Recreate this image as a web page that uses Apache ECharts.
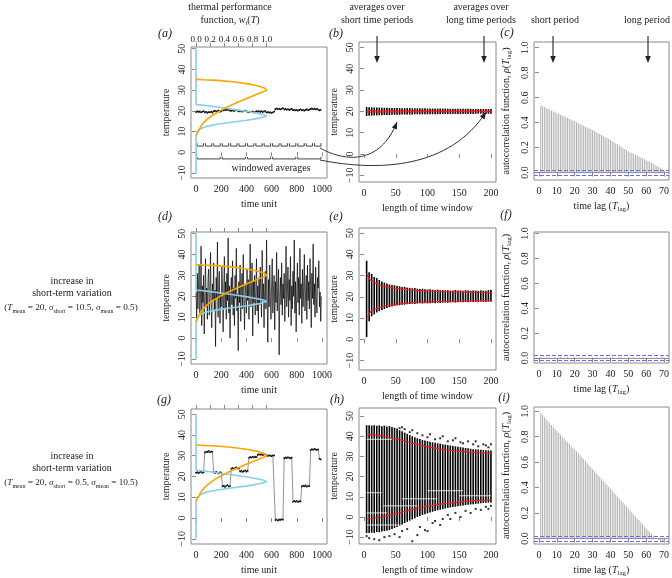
<!DOCTYPE html>
<html>
<head>
<meta charset="utf-8">
<script src="https://cdn.jsdelivr.net/npm/echarts@6/dist/echarts.min.js"></script>
<style>html,body{margin:0;padding:0;background:#fff}#chart{width:672px;height:578px}</style>
</head>
<body>
<div id="chart"></div>
<script>
// ---- data ----
// thermal performance curves: [w, temperature]
var blueCurve = [[0,-10],[0,8],[0.02,10],[0.07,11.5],[0.15,12.5],[0.3,13.5],[0.5,14.5],[0.72,15.5],[0.9,16.5],[1,17.5],
  [0.95,18.3],[0.75,19.6],[0.55,20.6],[0.35,21.6],[0.15,22.5],[0.04,22.9],[0,23],[0,50]];
var orangeCurve = [[0,8],[0.01,9],[0.03,10],[0.06,12],[0.1,14],[0.16,16],[0.24,18],[0.34,20],[0.45,22],[0.58,24],
  [0.72,26],[0.86,28],[0.96,29.3],[1,30],[0.97,31],[0.88,32],[0.74,33],[0.52,34],[0.3,34.7],[0.1,35],[0,35.2]];

// panel a: temperature every 10 time units
var tempA = [19.4,19.8,19.5,19.7,19.3,19.6,19.9, 19.2,19.5,19.0,19.4,19.3,19.6,19.1, 19.8,20.1,19.7,19.9,20.2,19.6,19.8,
  20.5,20.2,20.6,20.3,20.7,20.4,20.1, 20.0,20.3,19.9,20.2,20.4,20.1,19.8, 19.7,20.0,19.6,19.9,20.1,19.8,19.5,
  19.3,19.6,19.4,19.7,19.2,19.5,19.8, 19.6,19.9,19.5,19.8,19.4,19.7,20.0, 19.2,19.5,19.1,19.4,19.0,19.3,19.6,
  20.9,21.2,20.8,21.1,20.7,21.0,21.3, 20.6,20.9,20.5,20.8,20.4,20.7,21.0, 20.3,20.6,20.2,20.5,20.1,20.4,20.7,
  20.2,20.5,20.1,20.4,20.8,20.3,20.6, 20.9,21.2,20.8,21.1,20.7,21.0,20.6, 20.2,20.5];
// panel d: temperature every 5 time units
var tempD = [22,8,31,14,27,35,12,19,44,6,25,17,30,2,21,38,15,24,9,28,
  33,11,20,41,16,5,26,18,36,13,23,-4,29,19,46,10,24,32,7,21,
  15,34,26,3,22,39,14,27,9,31,18,48,12,25,0,20,29,16,37,11,
  24,6,30,19,43,13,21,-6,27,17,35,8,23,31,14,40,19,4,26,22,
  12,33,18,28,9,24,45,15,20,36,1,27,17,30,11,22,38,13,25,7,
  29,16,34,21,10,42,18,26,5,23,32,14,47,19,-2,28,15,35,20,9,
  25,38,12,22,30,4,27,17,41,13,24,33,-8,20,29,16,36,11,26,19,
  31,8,23,44,15,21,34,10,28,18,39,6,25,14,32,20,47,12,27,3,
  22,36,17,29,11,43,19,26,7,33,15,24,40,13,21,30,9,35,18,27,
  14,38,23,5,31,19,45,16,26,10,34,20,12,29,24,37,15,22,8,20];
// panel g: temperature every 10 time units
var tempG = [21.8,22.1,21.6,22.0,22.3,21.7,22.0, 31.6,32.0,31.8,32.3,31.7,32.1,31.9, 22.0,21.6,22.2,21.8,21.5,22.1,21.9,
  15.2,15.6,15.0,15.5,15.8,15.1,15.4, 23.8,24.2,23.6,24.1,24.4,23.9,24.0, 22.4,22.8,22.2,22.6,22.9,22.3,22.7,
  29.0,29.4,29.1,29.6,29.2,29.5,29.3, 30.4,30.8,30.5,30.7,30.3,30.9,30.6, 30.2,29.9,30.3,30.0,29.8,30.2,30.1,
  -1.0,-0.6,-1.2,-0.7,-0.9,-0.5,-0.8, 28.8,29.2,28.9,29.3,29.0,28.7,29.1, 7.8,8.2,7.9,8.3,7.7,8.1,8.0,
  15.2,15.6,15.3,15.7,15.1,15.5,15.4, 32.8,33.2,32.9,33.3,33.0,32.7,33.1, 28.5,28.2];

// windowed-average boundaries drawn under panel a
var shortWindows = [0,67,133,200,267,333,400,467,533,600,667,733,800,867,933,1000];
var longWindows = [0,200,400,600,800,1000];

// panels b, e, h: window lengths, spread of window averages and red quantile lines
var windowLen = [4,8,12,16,20,24,28,32,36,40,44,48,52,56,60,64,68,72,76,80,84,88,92,96,100,
  104,108,112,116,120,124,128,132,136,140,144,148,152,156,160,164,168,172,176,180,184,188,192,196,200];
var bLo = [17.8,17.9,18.0,18.1,18.1,18.2,18.2,18.3,18.3,18.3,18.4,18.4,18.4,18.4,18.5,18.5,18.5,18.5,18.5,18.6,
  18.6,18.6,18.6,18.6,18.6,18.7,18.7,18.7,18.7,18.7,18.7,18.7,18.7,18.8,18.8,18.8,18.8,18.8,18.8,18.8,
  18.8,18.8,18.8,18.9,18.9,18.9,18.9,18.9,18.9,18.9];
var bHi = [22.0,21.9,21.9,21.8,21.8,21.8,21.7,21.7,21.7,21.6,21.6,21.6,21.6,21.5,21.5,21.5,21.5,21.5,21.4,21.4,
  21.4,21.4,21.4,21.4,21.3,21.3,21.3,21.3,21.3,21.3,21.3,21.3,21.2,21.2,21.2,21.2,21.2,21.2,21.2,21.2,
  21.2,21.2,21.1,21.1,21.1,21.1,21.1,21.1,21.1,21.1];
var bRedHi = [20.4,20.4,20.35,20.35,20.3,20.3,20.3,20.3,20.3,20.3,20.25,20.25,20.25,20.25,20.25,20.25,20.25,20.25,20.25,20.25,
  20.2,20.2,20.2,20.2,20.2,20.2,20.2,20.2,20.2,20.2,20.2,20.2,20.2,20.2,20.2,20.2,20.2,20.2,20.2,20.2,
  20.2,20.2,20.2,20.2,20.2,20.2,20.2,20.2,20.2,20.2];
var bRedLo = [19.6,19.6,19.65,19.65,19.7,19.7,19.7,19.7,19.7,19.7,19.75,19.75,19.75,19.75,19.75,19.75,19.75,19.75,19.75,19.75,
  19.8,19.8,19.8,19.8,19.8,19.8,19.8,19.8,19.8,19.8,19.8,19.8,19.8,19.8,19.8,19.8,19.8,19.8,19.8,19.8,
  19.8,19.8,19.8,19.8,19.8,19.8,19.8,19.8,19.8,19.8];
var eLo = [1.0,8.5,10.8,11.7,12.6,13.2,13.8,14.2,14.7,15.1,15.4,15.7,15.9,16.0,16.2,16.3,16.5,16.6,16.7,16.6,
  16.8,16.9,16.8,17.0,16.9,17.0,17.1,17.0,17.2,17.1,17.2,17.3,17.2,17.3,17.4,17.3,17.4,17.5,17.4,17.5,
  17.4,17.6,17.5,17.6,17.5,17.7,17.6,17.5,17.7,17.6];
var eHi = [37.0,31.6,30.8,29.3,28.8,27.9,27.2,26.7,26.2,25.8,25.6,25.4,25.1,24.9,24.6,24.7,24.3,24.2,24.0,24.1,
  23.8,23.7,23.8,23.5,23.4,23.5,23.3,23.2,23.4,23.1,23.2,23.0,23.1,22.9,23.0,23.2,22.9,23.0,22.8,23.1,
  22.9,22.8,23.0,22.9,22.8,23.0,22.9,22.8,23.1,23.3];
var eRedHi = [30.8,28.5,27.4,26.8,26.1,25.6,25.2,24.8,24.6,24.4,24.2,24.0,23.9,23.8,23.6,23.5,23.4,23.3,23.2,23.1,
  23.0,22.9,22.9,22.8,22.7,22.7,22.6,22.6,22.5,22.5,22.5,22.4,22.4,22.4,22.3,22.3,22.3,22.3,22.2,22.2,
  22.2,22.2,22.2,22.1,22.1,22.1,22.1,22.1,22.0,22.0];
var eRedLo = [9.7,12.0,13.6,14.0,14.4,14.9,15.3,15.5,15.8,16.0,16.2,16.4,16.5,16.7,16.8,16.9,17.0,17.1,17.2,17.3,
  17.4,17.4,17.5,17.5,17.6,17.6,17.7,17.7,17.8,17.8,17.8,17.9,17.9,17.9,18.0,18.0,18.0,18.0,18.1,18.1,
  18.1,18.1,18.1,18.2,18.2,18.2,18.2,18.2,18.3,18.3];
var hLo = [-8.0,-8.0,-7.8,-7.9,-7.5,-7.6,-7.2,-7.0,-6.8,-6.5,-6.0,-5.5,-5.0,-4.3,-3.7,-3.0,-2.4,-1.8,-1.2,-0.6,
  0.0,0.5,1.0,1.4,1.8,2.2,2.6,3.0,3.3,3.6,3.9,4.2,4.5,4.7,4.9,5.1,5.3,5.5,5.7,5.9,
  6.0,6.2,6.3,6.5,6.6,6.8,6.9,7.0,7.1,7.2];
var hHi = [45.5,45.5,45.3,45.5,45.2,45.4,45.0,45.3,44.8,45.0,44.6,44.2,43.8,43.0,42.5,41.8,41.2,40.6,40.0,39.5,
  39.0,38.6,38.2,37.9,37.6,37.3,37.0,36.8,36.5,36.3,36.0,35.8,35.6,35.4,35.2,35.0,34.8,34.6,34.4,34.2,
  34.0,33.8,33.6,33.5,33.4,33.3,33.2,33.1,33.0,32.9];
var hRedHi = [41.0,40.9,40.7,40.6,40.4,40.3,40.1,39.9,39.6,39.3,39.0,38.8,38.6,38.3,38.0,37.6,37.3,37.0,36.6,36.3,
  36.0,35.6,35.3,35.0,34.8,34.6,34.3,34.1,33.9,33.7,33.5,33.3,33.2,33.0,32.9,32.8,32.6,32.5,32.4,32.3,
  32.2,32.1,32.0,31.9,31.8,31.8,31.7,31.6,31.6,31.5];
var hRedLo = [-1.0,-0.9,-0.8,-0.6,-0.4,-0.2,0.0,0.3,0.6,0.9,1.2,1.5,1.8,2.1,2.5,2.8,3.1,3.4,3.7,4.0,
  4.3,4.6,4.9,5.1,5.3,5.5,5.7,5.9,6.1,6.3,6.5,6.7,6.8,7.0,7.1,7.2,7.4,7.5,7.6,7.7,
  7.8,7.9,8.0,8.1,8.1,8.2,8.3,8.3,8.4,8.5];
// scattered window averages outside the dense columns of panel h: [window, temperature]
var hOutliers = [[56,44],[60,44.5],[64,43.5],[72,42],[76,43],[84,41.5],[92,40.5],[100,39.5],[104,41],[112,38.5],
  [120,39],[124,40],[132,37.5],[140,38],[144,39],[152,37],[156,36.5],[164,37.5],[172,36],[176,37.5],
  [180,35],[188,36],[192,35.5],[196,34.5],[200,36],
  [4,-9.5],[8,-10.5],[16,-11],[24,-11.5],[32,-10],[40,-9.5],[48,-8.5],[56,-10],[60,-7],[68,-6],
  [76,-12],[84,-9],[88,-5],[96,-6.5],[100,-7],[108,-3],[112,-2],[120,-4],[124,-1],[132,1],
  [136,-1],[144,2],[152,0],[160,3],[168,2],[176,4],[184,3.5],[192,5],[196,4],[200,5.5]];
// white gaps inside the dense columns of panel h: [window from, window to, temperature]
var hGaps = [[4,56,-4],[4,36,2],[30,84,5.5],[60,116,9],[4,28,12],[100,156,13],[150,200,10.5],[4,44,38.5]];

// autocorrelation at lags 1..70
var acfC = [0.54,0.532,0.525,0.518,0.51,0.503,0.497,0.49,0.482,0.475,0.469,0.463,0.457,0.451,0.445,0.438,0.431,0.424,0.417,0.41,
  0.403,0.396,0.389,0.382,0.375,0.368,0.361,0.354,0.347,0.34,0.332,0.324,0.316,0.308,0.3,0.292,0.284,0.276,0.268,0.26,
  0.251,0.242,0.233,0.224,0.215,0.206,0.197,0.188,0.179,0.17,0.163,0.156,0.149,0.142,0.135,0.128,0.121,0.114,0.107,0.1,
  0.092,0.084,0.076,0.068,0.06,0.052,0.044,0.036,0.028,0.02];
var acfF = [0.006,-0.004,0.003,0.008,-0.002,0.005,-0.007,0.004,0.009,-0.003,0.002,0.007,-0.005,0.004,-0.002,0.006,0.003,-0.006,0.005,0.008,
  -0.004,0.002,0.007,-0.003,0.005,-0.006,0.004,0.003,-0.002,0.006,-0.005,0.004,0.002,-0.007,0.005,0.003,-0.004,0.006,-0.002,0.004,
  0.007,-0.003,0.002,-0.005,0.004,0.006,-0.002,0.003,-0.006,0.005,0.002,-0.004,0.006,0.003,-0.005,0.004,-0.003,0.007,0.002,-0.004,
  0.005,-0.006,0.003,0.004,-0.002,0.006,-0.005,0.003,0.016,-0.004];
var acfI = [0.985,0.97,0.954,0.938,0.922,0.907,0.892,0.876,0.861,0.845,0.83,0.815,0.8,0.785,0.77,0.756,0.742,0.728,0.714,0.7,
  0.685,0.67,0.654,0.638,0.623,0.607,0.591,0.576,0.56,0.545,0.53,0.514,0.499,0.483,0.468,0.452,0.437,0.421,0.406,0.39,
  0.375,0.359,0.344,0.328,0.313,0.297,0.282,0.266,0.251,0.235,0.22,0.204,0.189,0.173,0.158,0.142,0.127,0.111,0.096,0.08,
  0.065,0.05,0.036,0.022,0.008,-0.004,-0.012,-0.018,-0.024,-0.03];
var acfBound = 0.018;

// tick labels
var timeTicks = [0,200,400,600,800,1000];
var tempTicks = [-10,0,10,20,30,40,50];
var windowTicks = [0,50,100,150,200];
var lagTicks = [0,10,20,30,40,50,60,70];
var acfTicks = [0,0.2,0.4,0.6,0.8,1.0];
var wTicks = [0,0.2,0.4,0.6,0.8,1.0];

// ---- layout ----
var SERIF = 'Liberation Serif';
var INK = '#222';
var LINE = '#8a8a8a';
var SKY = '#87CEEB';
var ORANGE = '#FFA500';
var FS = 10;

// [left, top, width, height, ymin, ymax]
var boxes = [
  [191, 47, 136, 131, -12.4, 50.8], [359, 42, 137, 140, -13.1, 52.5], [534, 42, 136, 138, -0.06, 1.046],
  [191, 232, 136, 132, -12.4, 50.8], [359, 228, 137, 142, -14.5, 52.4], [534, 232, 136, 131, -0.04, 1.013],
  [191, 409, 136, 137, -12.5, 52.5], [359, 408, 137, 146, -13.4, 54], [534, 407, 136, 138, -0.044, 1.034]
];
var xRanges = [[-40, 1040], [-8, 208], [-2.8, 72.8]];
var wRange = [-40 / 561, 1040 / 561];

function minus(v) { return v < 0 ? '\u2212' + Math.abs(v) : String(v); }
var richSub = {
  i: {fontFamily: SERIF, fontStyle: 'italic', fontSize: FS, color: INK, lineHeight: 13},
  s: {fontFamily: SERIF, fontSize: 7, color: INK, verticalAlign: 'bottom', lineHeight: 7}
};
function nameStyle() {
  return {fontFamily: SERIF, fontSize: FS, color: INK, lineHeight: 13, rich: richSub};
}

var grids = [], xAxes = [], yAxes = [];
boxes.forEach(function (b, k) {
  grids.push({left: b[0], top: b[1], width: b[2], height: b[3], show: true, borderColor: LINE, borderWidth: 1});
  var col = k % 3;
  var xt = [timeTicks, windowTicks, lagTicks][col];
  var xname = ['time unit', 'length of time window', 'time lag ({i|T}{s|lag})'][col];
  xAxes.push({
    type: 'value', gridIndex: k, min: xRanges[col][0], max: xRanges[col][1], position: 'bottom',
    name: xname, nameLocation: 'middle', nameGap: 20, nameTextStyle: nameStyle(),
    axisLine: {show: false}, splitLine: {show: false},
    axisTick: {show: true, length: 4, lineStyle: {color: LINE}, customValues: xt},
    axisLabel: {customValues: xt, fontFamily: SERIF, fontSize: FS, color: INK, margin: 6,
      formatter: function (v) { return String(v); }}
  });
  var yt = col === 2 ? acfTicks : tempTicks;
  var yname = col === 2 ? 'autocorrelation function, {i|\u03C1}({i|T}{s|lag})' : 'temperature';
  yAxes.push({
    type: 'value', gridIndex: k, min: b[4], max: b[5],
    name: yname, nameLocation: 'middle', nameGap: col === 2 ? 21 : 18, nameTextStyle: nameStyle(),
    axisLine: {show: false}, splitLine: {show: false},
    axisTick: {show: true, length: 4, lineStyle: {color: LINE}, customValues: yt},
    axisLabel: {customValues: yt, rotate: 90, fontFamily: SERIF, fontSize: FS, color: INK, margin: 4,
      formatter: function (v) { return col === 2 ? v.toFixed(1) : minus(v); }}
  });
});
// top axes for the thermal performance function in panels a, d, g
[0, 3, 6].forEach(function (g) {
  xAxes.push({
    type: 'value', gridIndex: g, min: wRange[0], max: wRange[1], position: 'top',
    axisLine: {show: false}, splitLine: {show: false},
    axisTick: {show: true, length: 4, lineStyle: {color: LINE}, customValues: wTicks},
    axisLabel: {show: g === 0, customValues: wTicks, fontFamily: SERIF, fontSize: 9, color: INK, margin: 3,
      formatter: function (v) { return v.toFixed(1); }}
  });
});

function timeLine(values, step, gi, opts) {
  return Object.assign({
    type: 'line', xAxisIndex: gi, yAxisIndex: gi, silent: true, animation: false,
    data: values.map(function (v, i) { return [i * step, v]; }),
    showSymbol: false, lineStyle: {color: '#888', width: 0.8}
  }, opts);
}
function tpc(data, color, gi, topIdx) {
  return {type: 'line', xAxisIndex: topIdx, yAxisIndex: gi, data: data, showSymbol: false, silent: true,
    animation: false, lineStyle: {color: color, width: 1.6}, z: 4};
}
function columns(gi, lo, hi) {
  return {
    type: 'custom', xAxisIndex: gi, yAxisIndex: gi, silent: true, animation: false,
    data: windowLen.map(function (w, k) { return [w, lo[k], hi[k]]; }),
    renderItem: function (p, api) {
      var a = api.coord([api.value(0), api.value(1)]);
      var b = api.coord([api.value(0), api.value(2)]);
      return {type: 'rect', shape: {x: a[0] - 0.8, y: b[1], width: 1.6, height: a[1] - b[1]}, style: {fill: '#000'}};
    }
  };
}
function redLine(gi, vals, w) {
  return {type: 'line', xAxisIndex: gi, yAxisIndex: gi, silent: true, animation: false, showSymbol: false,
    data: windowLen.map(function (x, k) { return [x, vals[k]]; }),
    lineStyle: {color: '#ff1a1a', width: w || 1.1}, z: 5};
}
function acfBars(gi, vals) {
  return {
    type: 'bar', xAxisIndex: gi, yAxisIndex: gi, silent: true, animation: false, barWidth: 1,
    data: vals.map(function (v, i) { return [i + 1, v]; }),
    itemStyle: {color: '#b0b0b0'},
    markLine: {silent: true, symbol: 'none', label: {show: false}, animation: false,
      data: [
        {yAxis: 0, lineStyle: {color: '#777', type: 'solid', width: 0.8}},
        {yAxis: acfBound, lineStyle: {color: '#6a6aff', type: 'dashed', width: 1}},
        {yAxis: -acfBound, lineStyle: {color: '#6a6aff', type: 'dashed', width: 1}}
      ]}
  };
}
function brackets(wins, yLo, yHi) {
  return {
    type: 'custom', xAxisIndex: 0, yAxisIndex: 0, silent: true, animation: false,
    data: wins.slice(0, -1).map(function (s, k) { return [s, wins[k + 1]]; }),
    renderItem: function (p, api) {
      var a = api.coord([api.value(0), yHi]);
      var b = api.coord([api.value(1), yLo]);
      var x1 = a[0] + 1, x2 = b[0] - 1;
      return {type: 'polyline', shape: {points: [[x1, a[1]], [x1, b[1]], [x2, b[1]], [x2, a[1]]]},
        style: {stroke: '#444', fill: null, lineWidth: 1}};
    }
  };
}

var pointStyle = {showSymbol: true, symbol: 'circle', symbolSize: 1.8, itemStyle: {color: '#111'},
  lineStyle: {color: '#777', width: 0.8}};

var series = [
  // a
  timeLine(tempA, 10, 0, pointStyle),
  brackets(shortWindows, 3.0, 4.4),
  brackets(longWindows, -3.2, -2.2),
  tpc(blueCurve, SKY, 0, 9), tpc(orangeCurve, ORANGE, 0, 9),
  // b
  columns(1, bLo, bHi), redLine(1, bRedHi, 1), redLine(1, bRedLo, 1),
  // c
  acfBars(2, acfC),
  // d
  timeLine(tempD, 5, 3, {lineStyle: {color: 'rgba(0,0,0,0.78)', width: 0.9}}),
  tpc(blueCurve, SKY, 3, 10), tpc(orangeCurve, ORANGE, 3, 10),
  // e
  columns(4, eLo, eHi), redLine(4, eRedHi), redLine(4, eRedLo),
  // f
  acfBars(5, acfF),
  // g
  timeLine(tempG, 10, 6, pointStyle),
  tpc(blueCurve, SKY, 6, 11), tpc(orangeCurve, ORANGE, 6, 11),
  // h
  columns(7, hLo, hHi),
  {type: 'custom', xAxisIndex: 7, yAxisIndex: 7, silent: true, animation: false, data: hGaps,
    renderItem: function (p, api) {
      var a = api.coord([api.value(0), api.value(2)]);
      var b = api.coord([api.value(1), api.value(2)]);
      return {type: 'line', shape: {x1: a[0], y1: a[1], x2: b[0], y2: b[1]}, style: {stroke: '#fff', lineWidth: 0.8}};
    }},
  {type: 'scatter', xAxisIndex: 7, yAxisIndex: 7, silent: true, animation: false, data: hOutliers,
    symbol: 'rect', symbolSize: 2, itemStyle: {color: '#000'}},
  redLine(7, hRedHi), redLine(7, hRedLo),
  // i
  acfBars(8, acfI)
];

// ---- annotations ----
function richFor(fs) {
  var sub = Math.round(fs * 0.7);
  return {
    i: {fontFamily: SERIF, fontStyle: 'italic', fontSize: fs, fill: INK, lineHeight: 13},
    s: {fontFamily: SERIF, fontSize: sub, fill: INK, verticalAlign: 'bottom', lineHeight: 7},
    si: {fontFamily: SERIF, fontStyle: 'italic', fontSize: sub, fill: INK, verticalAlign: 'bottom', lineHeight: 7}
  };
}
function txt(x, y, text, extra) {
  var fs = (extra && extra.fontSize) || FS;
  return {type: 'text', x: x, y: y, silent: true,
    style: Object.assign({text: text, fontFamily: SERIF, fontSize: FS, fill: INK, align: 'center',
      verticalAlign: 'middle', lineHeight: 13, rich: richFor(fs)}, extra || {})};
}
function letter(x, y, s) { return txt(x, y, '(' + s + ')', {fontStyle: 'italic', fontSize: 12}); }
function head(x, y, dx, dy) {
  var L = Math.sqrt(dx * dx + dy * dy), ux = dx / L, uy = dy / L, hl = 7, hw = 2.8;
  var bx = x - ux * hl, by = y - uy * hl;
  return {type: 'polygon', silent: true, shape: {points: [[x, y], [bx - uy * hw, by + ux * hw], [bx + uy * hw, by - ux * hw]]},
    style: {fill: '#222'}};
}
function downArrow(x) {
  return [{type: 'line', silent: true, shape: {x1: x, y1: 36, x2: x, y2: 58}, style: {stroke: '#222', lineWidth: 1.1}},
    head(x, 63, 0, 1)];
}
function curve(p0, c1, c2, p3) {
  return [{type: 'bezierCurve', silent: true,
    shape: {x1: p0[0], y1: p0[1], cpx1: c1[0], cpy1: c1[1], cpx2: c2[0], cpy2: c2[1], x2: p3[0], y2: p3[1]},
    style: {stroke: '#333', lineWidth: 1, fill: null}},
    head(p3[0], p3[1], p3[0] - c2[0], p3[1] - c2[1])];
}

var params2 = '({i|T}{s|mean} = 20, {i|\u03C3}{s|short} = 10.5, {i|\u03C3}{s|mean} = 0.5)';
var params3 = '({i|T}{s|mean} = 20, {i|\u03C3}{s|short} = 0.5, {i|\u03C3}{s|mean} = 10.5)';

var graphics = [
  txt(230, 7, 'thermal performance'),
  txt(230, 20, 'function, {i|w}{si|i}({i|T})'),
  txt(377, 7, 'averages over'), txt(377, 20, 'short time periods'),
  txt(481, 7, 'averages over'), txt(481, 20, 'long time periods'),
  txt(555, 20, 'short period'), txt(647, 20, 'long period'),
  letter(165, 34, 'a'), letter(336, 34, 'b'), letter(507, 33, 'c'),
  letter(165, 217, 'd'), letter(336, 217, 'e'), letter(506, 215, 'f'),
  letter(164, 400, 'g'), letter(337, 400, 'h'), letter(504, 398, 'i'),
  txt(271, 168, 'windowed averages'),
  txt(72, 281, 'increase in'), txt(72, 293, 'short-term variation'), txt(71, 308, params2, {fontSize: 9.2}),
  txt(72, 456, 'increase in'), txt(72, 468, 'short-term variation'), txt(71, 483, params3, {fontSize: 9.2})
].concat(downArrow(377), downArrow(484), downArrow(553), downArrow(648),
  curve([320, 148], [345, 162], [380, 165], [397, 122]),
  curve([320, 160], [380, 172], [450, 168], [486, 112]));

var chart = echarts.init(document.getElementById('chart'), null, {renderer: 'canvas'});
var option = {
  animation: false,
  backgroundColor: '#fff',
  grid: grids,
  xAxis: xAxes,
  yAxis: yAxes,
  series: series,
  graphic: {elements: graphics}
};
option && chart.setOption(option);
window.addEventListener('resize', function () { chart.resize(); });
</script>
</body>
</html>
